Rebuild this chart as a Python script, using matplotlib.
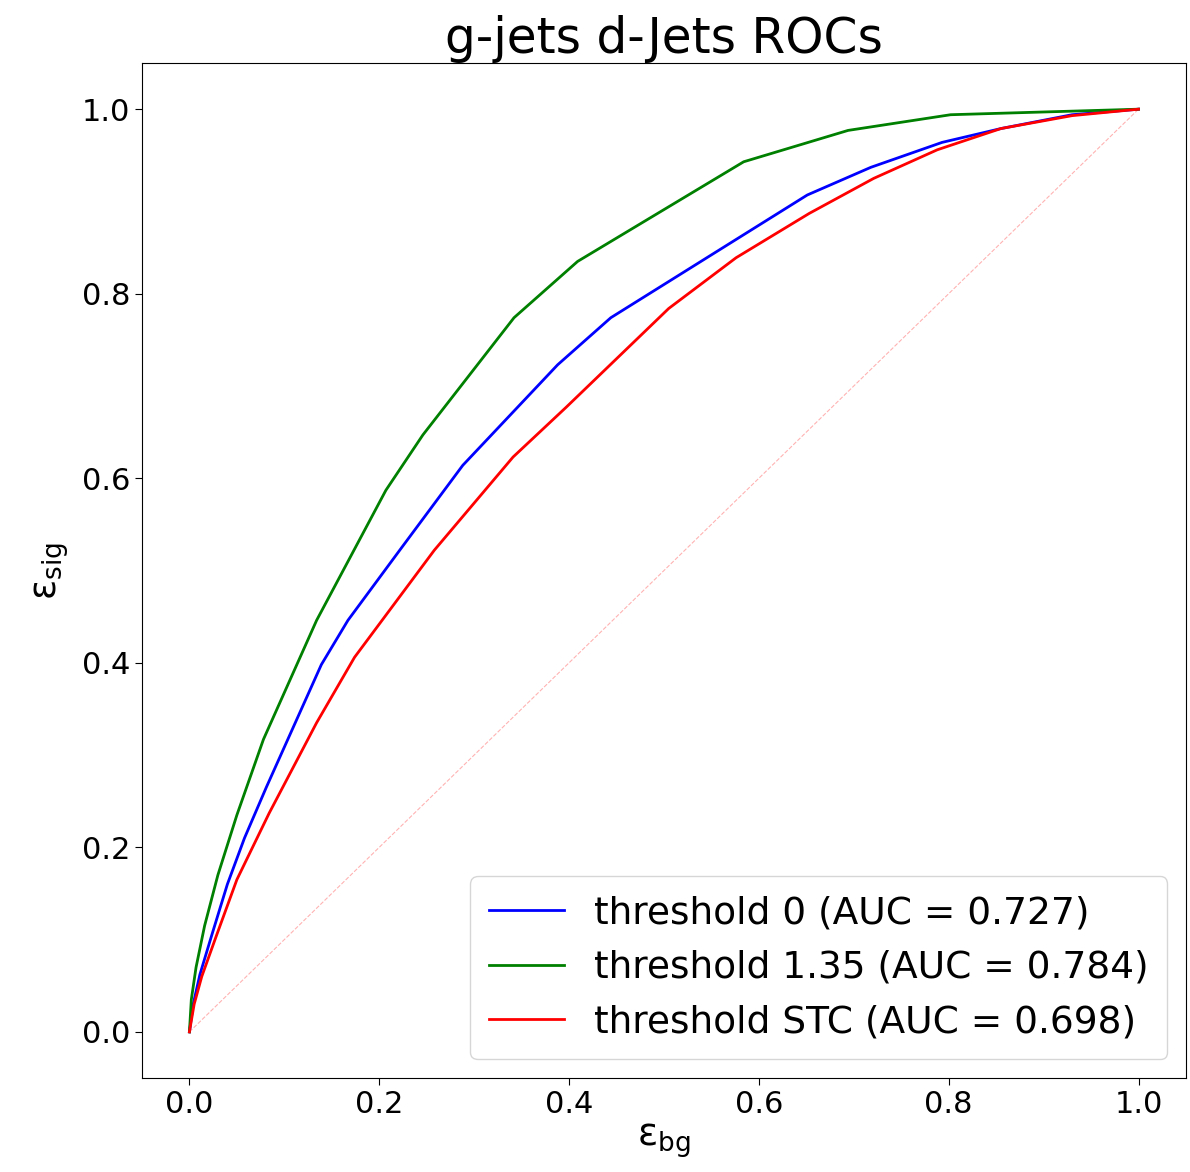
import numpy as np
import matplotlib
matplotlib.use('Agg')
import matplotlib.pyplot as plt

# ROC curves
fpr_t0 = [0, 0.004, 0.011, 0.023, 0.04, 0.058, 0.081, 0.139, 0.167, 0.223, 0.288,
          0.388, 0.444, 0.651, 0.718, 0.793, 0.855, 0.93, 1.0]
tpr_t0 = [0, 0.03, 0.062, 0.103, 0.16, 0.21, 0.265, 0.398, 0.446, 0.524, 0.614,
          0.723, 0.774, 0.907, 0.937, 0.964, 0.979, 0.994, 1.0]

fpr_t135 = [0, 0.002, 0.007, 0.016, 0.03, 0.05, 0.078, 0.134, 0.207, 0.246, 0.342,
            0.409, 0.584, 0.694, 0.802, 1.0]
tpr_t135 = [0, 0.035, 0.07, 0.115, 0.17, 0.235, 0.317, 0.446, 0.587, 0.647, 0.774,
            0.835, 0.943, 0.977, 0.994, 1.0]

fpr_stc = [0, 0.005, 0.013, 0.028, 0.05, 0.084, 0.134, 0.174, 0.258, 0.341, 0.397,
           0.505, 0.576, 0.653, 0.721, 0.788, 0.855, 0.93, 1.0]
tpr_stc = [0, 0.03, 0.06, 0.103, 0.165, 0.237, 0.335, 0.406, 0.522, 0.623, 0.677,
           0.784, 0.839, 0.887, 0.925, 0.956, 0.979, 0.993, 1.0]

labels = ['threshold 0 (AUC = 0.727)',
          'threshold 1.35 (AUC = 0.784)',
          'threshold STC (AUC = 0.698)']
colors = ['blue', 'green', 'red']

fig = plt.figure(figsize=(11.9, 11.72), dpi=100)
ax = fig.add_axes([0.1193, 0.0802, 0.8773, 0.866])

ax.plot([0, 1], [0, 1], color='red', lw=0.8, ls='--', alpha=0.3)
for fpr, tpr, lab, c in zip([fpr_t0, fpr_t135, fpr_stc],
                            [tpr_t0, tpr_t135, tpr_stc], labels, colors):
    ax.plot(fpr, tpr, color=c, lw=2, label=lab)

ax.set_xlim(-0.05, 1.05)
ax.set_ylim(-0.05, 1.05)
ax.set_xticks(np.arange(0, 1.01, 0.2))
ax.set_yticks(np.arange(0, 1.01, 0.2))
ax.tick_params(labelsize=22, length=5)
ax.set_xlabel(r'ε$_{\rm bg}$', fontsize=27, labelpad=2)
ax.set_ylabel(r'ε$_{\rm sig}$', fontsize=27, labelpad=8)
ax.set_title('g-jets d-Jets ROCs', fontsize=35, pad=6)
ax.legend(loc='lower right', fontsize=27, handlelength=2.0, borderpad=0.5)

fig.savefig('out.png', dpi=100)
